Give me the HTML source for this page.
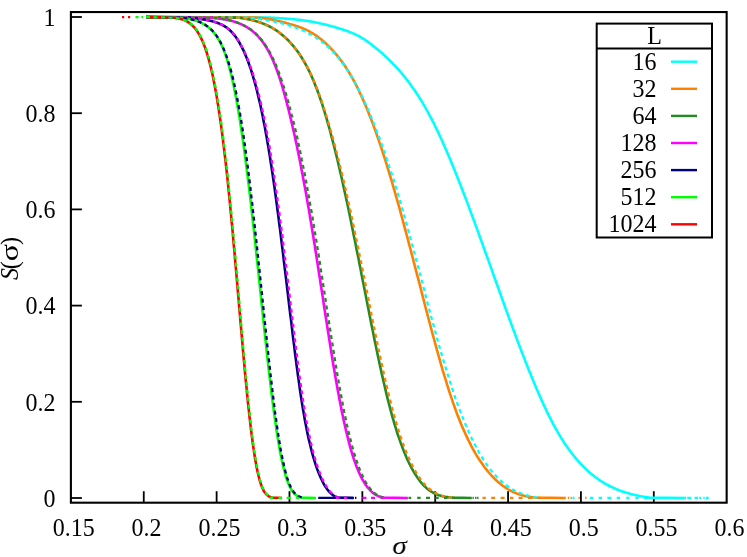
<!DOCTYPE html>
<html><head><meta charset="utf-8"><title>S(sigma)</title>
<style>
html,body{margin:0;padding:0;background:#fff;}
svg{display:block;will-change:transform;}
text{font-family:"Liberation Serif",serif;font-size:24px;fill:#000;}
</style></head><body>
<svg width="747" height="557" viewBox="0 0 747 557">
<rect x="0" y="0" width="747" height="557" fill="#fff"/>
<g id="axes" opacity="0.999">
<rect x="70.90" y="12.05" width="655.75" height="490.65" fill="none" stroke="#000" stroke-width="2.1"/>
<line x1="143.76" y1="502.70" x2="143.76" y2="491.20" stroke="#000" stroke-width="1.8"/>
<line x1="216.62" y1="502.70" x2="216.62" y2="491.20" stroke="#000" stroke-width="1.8"/>
<line x1="289.48" y1="502.70" x2="289.48" y2="491.20" stroke="#000" stroke-width="1.8"/>
<line x1="362.34" y1="502.70" x2="362.34" y2="491.20" stroke="#000" stroke-width="1.8"/>
<line x1="435.21" y1="502.70" x2="435.21" y2="491.20" stroke="#000" stroke-width="1.8"/>
<line x1="508.07" y1="502.70" x2="508.07" y2="491.20" stroke="#000" stroke-width="1.8"/>
<line x1="580.93" y1="502.70" x2="580.93" y2="491.20" stroke="#000" stroke-width="1.8"/>
<line x1="653.79" y1="502.70" x2="653.79" y2="491.20" stroke="#000" stroke-width="1.8"/>
<line x1="70.90" y1="498.00" x2="81.90" y2="498.00" stroke="#000" stroke-width="1.8"/>
<line x1="70.90" y1="401.80" x2="81.90" y2="401.80" stroke="#000" stroke-width="1.8"/>
<line x1="70.90" y1="305.60" x2="81.90" y2="305.60" stroke="#000" stroke-width="1.8"/>
<line x1="70.90" y1="209.40" x2="81.90" y2="209.40" stroke="#000" stroke-width="1.8"/>
<line x1="70.90" y1="113.20" x2="81.90" y2="113.20" stroke="#000" stroke-width="1.8"/>
<line x1="70.90" y1="17.00" x2="81.90" y2="17.00" stroke="#000" stroke-width="1.8"/>
<text transform="translate(73.70 535.60) scale(1.00 1.02)" text-anchor="middle">0.15</text>
<text transform="translate(146.56 535.60) scale(1.00 1.02)" text-anchor="middle">0.2</text>
<text transform="translate(219.42 535.60) scale(1.00 1.02)" text-anchor="middle">0.25</text>
<text transform="translate(292.28 535.60) scale(1.00 1.02)" text-anchor="middle">0.3</text>
<text transform="translate(365.14 535.60) scale(1.00 1.02)" text-anchor="middle">0.35</text>
<text transform="translate(438.01 535.60) scale(1.00 1.02)" text-anchor="middle">0.4</text>
<text transform="translate(510.87 535.60) scale(1.00 1.02)" text-anchor="middle">0.45</text>
<text transform="translate(583.73 535.60) scale(1.00 1.02)" text-anchor="middle">0.5</text>
<text transform="translate(656.59 535.60) scale(1.00 1.02)" text-anchor="middle">0.55</text>
<text transform="translate(729.45 535.60) scale(1.00 1.02)" text-anchor="middle">0.6</text>
<text transform="translate(55.50 506.70) scale(1.00 1.02)" text-anchor="end">0</text>
<text transform="translate(55.50 410.50) scale(1.00 1.02)" text-anchor="end">0.2</text>
<text transform="translate(55.50 314.30) scale(1.00 1.02)" text-anchor="end">0.4</text>
<text transform="translate(55.50 218.10) scale(1.00 1.02)" text-anchor="end">0.6</text>
<text transform="translate(55.50 121.90) scale(1.00 1.02)" text-anchor="end">0.8</text>
<text transform="translate(55.50 25.70) scale(1.00 1.02)" text-anchor="end">1</text>
<text transform="translate(399.60 554.20) scale(1.22 1.02)" text-anchor="middle" font-size="25.5" font-style="italic">σ</text>
<text transform="translate(17.50 280.00) rotate(-90) scale(1.00 1.02)" text-anchor="start" font-style="italic">S</text>
<text transform="translate(17.50 269.30) rotate(-90) scale(1.00 1.02)" text-anchor="start">(</text>
<text transform="translate(17.50 261.20) rotate(-90) scale(1.33 1.02)" text-anchor="start" font-size="26">σ</text>
<text transform="translate(17.50 245.00) rotate(-90) scale(1.00 1.02)" text-anchor="start">)</text>
</g>
<g id="curves">
<path d="M146.0 17.1 270.0 17.6 270.3 17.6 270.6 17.6 270.9 17.7 271.2 17.7 271.5 17.7 271.9 17.7 272.2 17.7 272.6 17.8 273.0 17.8 273.4 17.8 273.8 17.8 274.2 17.8 274.6 17.9 275.1 17.9 275.5 17.9 276.0 18.0 276.5 18.0 276.9 18.0 277.4 18.0 277.9 18.1 278.5 18.1 279.0 18.1 279.5 18.2 280.0 18.2 280.6 18.2 281.1 18.3 281.7 18.3 282.3 18.3 282.9 18.4 283.4 18.4 284.0 18.5 284.6 18.5 285.2 18.6 285.9 18.6 286.5 18.6 287.1 18.7 287.7 18.7 288.4 18.8 289.0 18.9 289.7 18.9 290.3 19.0 291.0 19.0 291.7 19.1 292.3 19.1 293.0 19.2 293.7 19.3 294.4 19.3 295.1 19.4 295.8 19.5 296.5 19.5 297.2 19.6 297.9 19.7 298.6 19.8 299.3 19.9 300.0 19.9 300.7 20.0 301.4 20.1 302.1 20.2 302.8 20.3 303.6 20.4 304.3 20.5 305.0 20.6 305.7 20.7 306.5 20.8 307.2 20.9 307.9 21.0 308.7 21.1 309.4 21.3 310.1 21.4 310.9 21.5 311.6 21.7 312.4 21.8 313.2 21.9 313.9 22.1 314.7 22.2 315.5 22.4 316.3 22.5 317.0 22.7 317.8 22.9 318.7 23.0 319.5 23.2 320.3 23.4 321.1 23.6 322.0 23.8 322.8 24.0 323.7 24.2 324.5 24.4 325.4 24.6 326.3 24.8 327.2 25.0 328.1 25.3 329.0 25.5 330.0 25.8 330.9 26.0 331.9 26.3 332.8 26.5 333.8 26.8 334.8 27.1 335.8 27.4 336.8 27.7 337.9 28.0 338.9 28.3 340.0 28.7 341.1 29.0 342.1 29.3 343.2 29.7 344.3 30.1 345.4 30.4 346.5 30.8 347.6 31.2 348.7 31.6 349.8 32.1 350.9 32.5 352.0 32.9 353.0 33.4 354.1 33.9 355.2 34.4 356.2 34.9 357.3 35.4 358.3 35.9 359.3 36.4 360.4 37.0 361.3 37.6 362.3 38.2 363.3 38.8 364.3 39.4 365.3 40.0 366.2 40.7 367.2 41.4 368.2 42.1 369.1 42.8 370.1 43.5 371.1 44.3 372.1 45.1 373.1 45.9 374.2 46.7 375.2 47.5 376.3 48.4 377.4 49.3 378.5 50.2 379.6 51.1 380.7 52.1 381.8 53.1 383.0 54.1 384.1 55.1 385.3 56.2 386.5 57.3 387.7 58.4 388.9 59.6 390.1 60.8 391.3 62.0 392.6 63.3 393.8 64.6 395.1 65.9 396.3 67.2 397.6 68.6 398.9 70.1 400.1 71.5 401.4 73.0 402.7 74.6 404.0 76.1 405.3 77.8 406.6 79.4 407.9 81.1 409.3 82.9 410.6 84.7 411.9 86.5 413.2 88.4 414.6 90.3 415.9 92.3 417.2 94.3 418.6 96.4 419.9 98.5 421.3 100.7 422.6 102.9 423.9 105.1 425.3 107.5 426.6 109.9 428.0 112.3 429.3 114.8 430.7 117.3 432.0 119.9 433.4 122.6 434.7 125.3 436.1 128.1 437.5 130.9 438.8 133.8 440.2 136.8 441.6 139.8 443.0 142.9 444.4 146.0 445.8 149.2 447.2 152.5 448.7 155.9 450.1 159.3 451.5 162.7 453.0 166.3 454.5 169.9 455.9 173.5 457.4 177.2 458.9 181.0 460.4 184.9 461.9 188.8 463.5 192.8 465.0 196.8 466.6 200.9 468.2 205.1 469.7 209.3 471.3 213.6 473.0 218.0 474.6 222.4 476.2 226.9 477.9 231.4 479.5 236.0 481.2 240.6 482.9 245.3 484.6 250.0 486.3 254.8 488.1 259.6 489.8 264.4 491.6 269.3 493.3 274.3 495.1 279.2 496.9 284.2 498.7 289.3 500.5 294.3 502.3 299.4 504.2 304.5 506.0 309.6 507.9 314.7 509.7 319.8 511.6 324.9 513.5 330.0 515.4 335.1 517.3 340.2 519.2 345.3 521.1 350.3 523.1 355.4 525.0 360.4 527.0 365.3 528.9 370.3 530.9 375.1 532.9 379.9 534.9 384.7 536.9 389.4 538.9 394.1 540.9 398.6 542.9 403.1 545.0 407.5 547.0 411.9 549.1 416.1 551.2 420.2 553.3 424.3 555.5 428.2 557.7 432.1 559.9 435.8 562.1 439.4 564.3 442.9 566.6 446.3 569.0 449.6 571.3 452.8 573.7 455.8 576.1 458.7 578.5 461.5 580.9 464.1 583.4 466.7 585.9 469.1 588.3 471.4 590.8 473.5 593.4 475.6 595.9 477.5 598.4 479.3 600.9 481.0 603.5 482.6 606.0 484.1 608.5 485.5 611.1 486.7 613.5 487.9 616.0 489.0 618.4 490.0 620.8 490.9 623.2 491.7 625.5 492.5 627.7 493.1 629.8 493.8 631.9 494.3 633.9 494.8 635.8 495.2 637.7 495.6 639.4 496.0 641.0 496.3 642.5 496.5 643.9 496.8 645.1 497.0 646.2 497.1 647.2 497.3 648.0 497.4 648.7 497.5 649.2 497.6 686.0 498.0" fill="none" stroke="#00ffff" stroke-width="2.6" stroke-linejoin="round"/>
<path d="M146.0 17.1 255.0 17.6 255.4 17.6 255.8 17.6 256.2 17.7 256.5 17.7 256.9 17.7 257.3 17.7 257.6 17.7 258.0 17.8 258.3 17.8 258.6 17.8 259.0 17.8 259.3 17.8 259.7 17.9 260.0 17.9 260.3 17.9 260.6 18.0 260.9 18.0 261.3 18.0 261.6 18.0 261.9 18.1 262.2 18.1 262.5 18.1 262.8 18.2 263.1 18.2 263.4 18.2 263.8 18.3 264.1 18.3 264.4 18.3 264.7 18.4 265.0 18.4 265.3 18.5 265.6 18.5 265.9 18.6 266.2 18.6 266.6 18.6 266.9 18.7 267.2 18.7 267.5 18.8 267.8 18.9 268.2 18.9 268.5 19.0 268.8 19.0 269.2 19.1 269.5 19.1 269.9 19.2 270.2 19.3 270.6 19.3 270.9 19.4 271.3 19.5 271.7 19.5 272.0 19.6 272.4 19.7 272.8 19.8 273.2 19.9 273.6 19.9 274.0 20.0 274.4 20.1 274.8 20.2 275.3 20.3 275.7 20.4 276.2 20.5 276.6 20.6 277.1 20.7 277.5 20.8 278.0 20.9 278.5 21.0 279.0 21.1 279.5 21.3 280.0 21.4 280.5 21.5 281.1 21.7 281.6 21.8 282.2 21.9 282.7 22.1 283.3 22.2 283.9 22.4 284.5 22.5 285.1 22.7 285.7 22.9 286.4 23.0 287.0 23.2 287.7 23.4 288.4 23.6 289.0 23.8 289.7 24.0 290.5 24.2 291.2 24.4 291.9 24.6 292.7 24.8 293.4 25.0 294.2 25.3 294.9 25.5 295.7 25.8 296.5 26.0 297.3 26.3 298.0 26.5 298.8 26.8 299.6 27.1 300.4 27.4 301.2 27.7 302.0 28.0 302.8 28.3 303.6 28.7 304.3 29.0 305.1 29.3 305.9 29.7 306.7 30.1 307.4 30.4 308.2 30.8 309.0 31.2 309.7 31.6 310.5 32.1 311.2 32.5 312.0 32.9 312.8 33.4 313.5 33.9 314.3 34.4 315.0 34.9 315.8 35.4 316.6 35.9 317.3 36.4 318.1 37.0 318.9 37.6 319.6 38.2 320.4 38.8 321.2 39.4 322.0 40.0 322.7 40.7 323.5 41.4 324.3 42.1 325.1 42.8 325.9 43.5 326.7 44.3 327.5 45.1 328.3 45.9 329.2 46.7 330.0 47.5 330.8 48.4 331.7 49.3 332.5 50.2 333.4 51.1 334.2 52.1 335.1 53.1 336.0 54.1 336.8 55.1 337.7 56.2 338.6 57.3 339.5 58.4 340.4 59.6 341.3 60.8 342.2 62.0 343.1 63.3 344.0 64.6 344.9 65.9 345.8 67.2 346.7 68.6 347.6 70.1 348.5 71.5 349.4 73.0 350.3 74.6 351.3 76.1 352.2 77.8 353.1 79.4 354.0 81.1 355.0 82.9 355.9 84.7 356.8 86.5 357.8 88.4 358.7 90.3 359.6 92.3 360.6 94.3 361.5 96.4 362.5 98.5 363.5 100.7 364.4 102.9 365.4 105.1 366.4 107.5 367.4 109.9 368.4 112.3 369.3 114.8 370.3 117.3 371.4 119.9 372.4 122.6 373.4 125.3 374.4 128.1 375.4 130.9 376.5 133.8 377.5 136.8 378.6 139.8 379.6 142.9 380.7 146.0 381.8 149.2 382.8 152.5 383.9 155.9 385.0 159.3 386.1 162.7 387.2 166.3 388.3 169.9 389.4 173.5 390.5 177.2 391.7 181.0 392.8 184.9 393.9 188.8 395.1 192.8 396.2 196.8 397.4 200.9 398.6 205.1 399.8 209.3 400.9 213.6 402.1 218.0 403.3 222.4 404.5 226.9 405.7 231.4 407.0 236.0 408.2 240.6 409.4 245.3 410.7 250.0 411.9 254.8 413.2 259.6 414.4 264.4 415.7 269.3 417.0 274.3 418.3 279.2 419.6 284.2 420.9 289.3 422.2 294.3 423.5 299.4 424.8 304.5 426.1 309.6 427.5 314.7 428.8 319.8 430.2 324.9 431.5 330.0 432.9 335.1 434.3 340.2 435.7 345.3 437.1 350.3 438.5 355.4 439.9 360.4 441.3 365.3 442.7 370.3 444.2 375.1 445.7 379.9 447.1 384.7 448.6 389.4 450.1 394.1 451.7 398.6 453.2 403.1 454.8 407.5 456.3 411.9 457.9 416.1 459.6 420.2 461.2 424.3 462.9 428.2 464.6 432.1 466.3 435.8 468.0 439.4 469.8 442.9 471.5 446.3 473.3 449.6 475.1 452.8 476.9 455.8 478.7 458.7 480.6 461.5 482.4 464.1 484.2 466.7 486.1 469.1 487.9 471.4 489.7 473.5 491.6 475.6 493.4 477.5 495.2 479.3 497.0 481.0 498.8 482.6 500.6 484.1 502.4 485.5 504.2 486.7 505.9 487.9 507.6 489.0 509.3 490.0 511.0 490.9 512.7 491.7 514.3 492.5 515.9 493.1 517.5 493.8 519.0 494.3 520.5 494.8 522.0 495.2 523.4 495.6 524.8 496.0 526.1 496.3 527.4 496.5 528.7 496.8 529.9 497.0 531.0 497.1 532.1 497.3 533.2 497.4 534.2 497.5 535.1 497.6 565.8 498.0" fill="none" stroke="#ff8000" stroke-width="2.6" stroke-linejoin="round"/>
<path d="M146.0 17.1 238.0 17.6 238.1 17.6 238.2 17.6 238.4 17.7 238.5 17.7 238.6 17.7 238.8 17.7 238.9 17.7 239.0 17.8 239.2 17.8 239.4 17.8 239.5 17.8 239.7 17.8 239.9 17.9 240.0 17.9 240.2 17.9 240.4 18.0 240.6 18.0 240.8 18.0 241.0 18.0 241.2 18.1 241.4 18.1 241.6 18.1 241.9 18.2 242.1 18.2 242.3 18.2 242.5 18.3 242.8 18.3 243.0 18.3 243.3 18.4 243.5 18.4 243.8 18.5 244.0 18.5 244.3 18.6 244.6 18.6 244.8 18.6 245.1 18.7 245.4 18.7 245.7 18.8 246.0 18.9 246.3 18.9 246.6 19.0 246.9 19.0 247.2 19.1 247.5 19.1 247.8 19.2 248.2 19.3 248.5 19.3 248.8 19.4 249.2 19.5 249.5 19.5 249.8 19.6 250.2 19.7 250.5 19.8 250.9 19.9 251.3 19.9 251.6 20.0 252.0 20.1 252.4 20.2 252.8 20.3 253.1 20.4 253.5 20.5 253.9 20.6 254.3 20.7 254.7 20.8 255.1 20.9 255.5 21.0 255.9 21.1 256.4 21.3 256.8 21.4 257.2 21.5 257.6 21.7 258.1 21.8 258.5 21.9 258.9 22.1 259.4 22.2 259.8 22.4 260.3 22.5 260.7 22.7 261.2 22.9 261.7 23.0 262.1 23.2 262.6 23.4 263.1 23.6 263.6 23.8 264.1 24.0 264.6 24.2 265.0 24.4 265.5 24.6 266.0 24.8 266.5 25.0 267.1 25.3 267.6 25.5 268.1 25.8 268.6 26.0 269.1 26.3 269.7 26.5 270.2 26.8 270.7 27.1 271.3 27.4 271.8 27.7 272.4 28.0 272.9 28.3 273.5 28.7 274.0 29.0 274.6 29.3 275.2 29.7 275.7 30.1 276.3 30.4 276.9 30.8 277.5 31.2 278.1 31.6 278.6 32.1 279.2 32.5 279.8 32.9 280.4 33.4 281.0 33.9 281.6 34.4 282.2 34.9 282.9 35.4 283.5 35.9 284.1 36.4 284.7 37.0 285.4 37.6 286.0 38.2 286.6 38.8 287.3 39.4 287.9 40.0 288.6 40.7 289.2 41.4 289.9 42.1 290.5 42.8 291.2 43.5 291.8 44.3 292.5 45.1 293.2 45.9 293.9 46.7 294.5 47.5 295.2 48.4 295.9 49.3 296.6 50.2 297.3 51.1 298.0 52.1 298.7 53.1 299.4 54.1 300.1 55.1 300.8 56.2 301.5 57.3 302.2 58.4 302.9 59.6 303.6 60.8 304.3 62.0 305.0 63.3 305.8 64.6 306.5 65.9 307.2 67.2 307.9 68.6 308.6 70.1 309.4 71.5 310.1 73.0 310.8 74.6 311.5 76.1 312.2 77.8 312.9 79.4 313.7 81.1 314.4 82.9 315.1 84.7 315.8 86.5 316.6 88.4 317.3 90.3 318.0 92.3 318.8 94.3 319.5 96.4 320.2 98.5 321.0 100.7 321.7 102.9 322.5 105.1 323.2 107.5 323.9 109.9 324.7 112.3 325.5 114.8 326.2 117.3 327.0 119.9 327.7 122.6 328.5 125.3 329.3 128.1 330.1 130.9 330.8 133.8 331.6 136.8 332.4 139.8 333.2 142.9 334.0 146.0 334.8 149.2 335.6 152.5 336.5 155.9 337.3 159.3 338.1 162.7 338.9 166.3 339.8 169.9 340.6 173.5 341.5 177.2 342.3 181.0 343.2 184.9 344.0 188.8 344.9 192.8 345.8 196.8 346.7 200.9 347.6 205.1 348.5 209.3 349.4 213.6 350.3 218.0 351.2 222.4 352.1 226.9 353.0 231.4 353.9 236.0 354.9 240.6 355.8 245.3 356.7 250.0 357.7 254.8 358.7 259.6 359.6 264.4 360.6 269.3 361.5 274.3 362.5 279.2 363.5 284.2 364.5 289.3 365.5 294.3 366.5 299.4 367.5 304.5 368.5 309.6 369.5 314.7 370.5 319.8 371.5 324.9 372.6 330.0 373.6 335.1 374.6 340.2 375.7 345.3 376.7 350.3 377.8 355.4 378.9 360.4 379.9 365.3 381.0 370.3 382.1 375.1 383.2 379.9 384.3 384.7 385.4 389.4 386.5 394.1 387.6 398.6 388.8 403.1 389.9 407.5 391.1 411.9 392.2 416.1 393.4 420.2 394.6 424.3 395.8 428.2 397.0 432.1 398.2 435.8 399.5 439.4 400.7 442.9 402.0 446.3 403.2 449.6 404.5 452.8 405.8 455.8 407.0 458.7 408.3 461.5 409.6 464.1 410.9 466.7 412.2 469.1 413.5 471.4 414.8 473.5 416.1 475.6 417.4 477.5 418.7 479.3 419.9 481.0 421.2 482.6 422.5 484.1 423.8 485.5 425.1 486.7 426.3 487.9 427.6 489.0 428.9 490.0 430.1 490.9 431.4 491.7 432.7 492.5 433.9 493.1 435.2 493.8 436.4 494.3 437.7 494.8 438.9 495.2 440.2 495.6 441.4 496.0 442.6 496.3 443.9 496.5 445.1 496.8 446.4 497.0 447.6 497.1 448.8 497.3 450.0 497.4 451.2 497.5 452.5 497.6 471.8 498.0" fill="none" stroke="#228b22" stroke-width="2.6" stroke-linejoin="round"/>
<path d="M146.0 17.1 210.0 17.6 210.2 17.6 210.5 17.6 210.7 17.7 210.9 17.7 211.2 17.7 211.4 17.7 211.7 17.7 211.9 17.8 212.2 17.8 212.5 17.8 212.7 17.8 213.0 17.8 213.3 17.9 213.6 17.9 213.8 17.9 214.1 18.0 214.4 18.0 214.7 18.0 215.0 18.0 215.3 18.1 215.6 18.1 215.9 18.1 216.2 18.2 216.5 18.2 216.8 18.2 217.2 18.3 217.5 18.3 217.8 18.3 218.1 18.4 218.5 18.4 218.8 18.5 219.1 18.5 219.5 18.6 219.8 18.6 220.1 18.6 220.5 18.7 220.8 18.7 221.2 18.8 221.6 18.9 221.9 18.9 222.3 19.0 222.6 19.0 223.0 19.1 223.4 19.1 223.8 19.2 224.1 19.3 224.5 19.3 224.9 19.4 225.3 19.5 225.7 19.5 226.0 19.6 226.4 19.7 226.8 19.8 227.2 19.9 227.6 19.9 228.0 20.0 228.4 20.1 228.8 20.2 229.2 20.3 229.7 20.4 230.1 20.5 230.5 20.6 230.9 20.7 231.3 20.8 231.7 20.9 232.2 21.0 232.6 21.1 233.0 21.3 233.5 21.4 233.9 21.5 234.3 21.7 234.8 21.8 235.2 21.9 235.6 22.1 236.1 22.2 236.5 22.4 237.0 22.5 237.4 22.7 237.9 22.9 238.3 23.0 238.8 23.2 239.2 23.4 239.7 23.6 240.1 23.8 240.6 24.0 241.1 24.2 241.5 24.4 242.0 24.6 242.5 24.8 242.9 25.0 243.4 25.3 243.9 25.5 244.4 25.8 244.8 26.0 245.3 26.3 245.8 26.5 246.3 26.8 246.8 27.1 247.2 27.4 247.7 27.7 248.2 28.0 248.7 28.3 249.2 28.7 249.7 29.0 250.2 29.3 250.7 29.7 251.2 30.1 251.6 30.4 252.1 30.8 252.6 31.2 253.1 31.6 253.6 32.1 254.1 32.5 254.6 32.9 255.1 33.4 255.6 33.9 256.1 34.4 256.7 34.9 257.2 35.4 257.7 35.9 258.2 36.4 258.7 37.0 259.2 37.6 259.7 38.2 260.2 38.8 260.7 39.4 261.2 40.0 261.7 40.7 262.3 41.4 262.8 42.1 263.3 42.8 263.8 43.5 264.3 44.3 264.8 45.1 265.4 45.9 265.9 46.7 266.4 47.5 266.9 48.4 267.4 49.3 268.0 50.2 268.5 51.1 269.0 52.1 269.5 53.1 270.0 54.1 270.6 55.1 271.1 56.2 271.6 57.3 272.1 58.4 272.6 59.6 273.2 60.8 273.7 62.0 274.2 63.3 274.7 64.6 275.3 65.9 275.8 67.2 276.3 68.6 276.8 70.1 277.4 71.5 277.9 73.0 278.4 74.6 279.0 76.1 279.5 77.8 280.1 79.4 280.6 81.1 281.2 82.9 281.7 84.7 282.3 86.5 282.8 88.4 283.4 90.3 283.9 92.3 284.5 94.3 285.1 96.4 285.7 98.5 286.2 100.7 286.8 102.9 287.4 105.1 288.0 107.5 288.6 109.9 289.2 112.3 289.8 114.8 290.4 117.3 291.1 119.9 291.7 122.6 292.3 125.3 292.9 128.1 293.6 130.9 294.2 133.8 294.9 136.8 295.5 139.8 296.2 142.9 296.9 146.0 297.5 149.2 298.2 152.5 298.9 155.9 299.6 159.3 300.3 162.7 300.9 166.3 301.6 169.9 302.3 173.5 303.0 177.2 303.7 181.0 304.4 184.9 305.2 188.8 305.9 192.8 306.6 196.8 307.3 200.9 308.0 205.1 308.8 209.3 309.5 213.6 310.2 218.0 311.0 222.4 311.7 226.9 312.4 231.4 313.2 236.0 313.9 240.6 314.7 245.3 315.4 250.0 316.2 254.8 316.9 259.6 317.7 264.4 318.4 269.3 319.2 274.3 320.0 279.2 320.7 284.2 321.5 289.3 322.3 294.3 323.1 299.4 323.8 304.5 324.6 309.6 325.4 314.7 326.2 319.8 327.0 324.9 327.8 330.0 328.6 335.1 329.4 340.2 330.2 345.3 331.0 350.3 331.8 355.4 332.6 360.4 333.4 365.3 334.3 370.3 335.1 375.1 335.9 379.9 336.8 384.7 337.6 389.4 338.5 394.1 339.3 398.6 340.2 403.1 341.1 407.5 341.9 411.9 342.8 416.1 343.7 420.2 344.6 424.3 345.5 428.2 346.4 432.1 347.3 435.8 348.2 439.4 349.1 442.9 350.0 446.3 350.9 449.6 351.9 452.8 352.8 455.8 353.7 458.7 354.7 461.5 355.7 464.1 356.6 466.7 357.6 469.1 358.5 471.4 359.5 473.5 360.5 475.6 361.4 477.5 362.4 479.3 363.3 481.0 364.3 482.6 365.2 484.1 366.2 485.5 367.1 486.7 368.0 487.9 369.0 489.0 369.9 490.0 370.8 490.9 371.6 491.7 372.5 492.5 373.3 493.1 374.2 493.8 375.0 494.3 375.8 494.8 376.6 495.2 377.3 495.6 378.1 496.0 378.8 496.3 379.5 496.5 380.1 496.8 380.8 497.0 381.4 497.1 382.0 497.3 382.5 497.4 383.0 497.5 383.5 497.6 407.9 498.0" fill="none" stroke="#ff00ff" stroke-width="2.6" stroke-linejoin="round"/>
<path d="M146.0 17.1 190.0 17.6 190.1 17.6 190.1 17.6 190.2 17.7 190.3 17.7 190.4 17.7 190.5 17.7 190.7 17.7 190.8 17.8 190.9 17.8 191.1 17.8 191.3 17.8 191.5 17.8 191.6 17.9 191.8 17.9 192.1 17.9 192.3 18.0 192.5 18.0 192.7 18.0 193.0 18.0 193.2 18.1 193.5 18.1 193.8 18.1 194.0 18.2 194.3 18.2 194.6 18.2 194.9 18.3 195.2 18.3 195.5 18.3 195.9 18.4 196.2 18.4 196.5 18.5 196.9 18.5 197.2 18.6 197.6 18.6 198.0 18.6 198.3 18.7 198.7 18.7 199.1 18.8 199.5 18.9 199.9 18.9 200.2 19.0 200.6 19.0 201.1 19.1 201.5 19.1 201.9 19.2 202.3 19.3 202.7 19.3 203.1 19.4 203.6 19.5 204.0 19.5 204.5 19.6 204.9 19.7 205.3 19.8 205.8 19.9 206.2 19.9 206.7 20.0 207.1 20.1 207.6 20.2 208.1 20.3 208.5 20.4 209.0 20.5 209.5 20.6 209.9 20.7 210.4 20.8 210.9 20.9 211.3 21.0 211.8 21.1 212.3 21.3 212.8 21.4 213.2 21.5 213.7 21.7 214.2 21.8 214.6 21.9 215.1 22.1 215.6 22.2 216.1 22.4 216.5 22.5 217.0 22.7 217.5 22.9 217.9 23.0 218.4 23.2 218.9 23.4 219.3 23.6 219.8 23.8 220.2 24.0 220.7 24.2 221.2 24.4 221.6 24.6 222.1 24.8 222.5 25.0 222.9 25.3 223.4 25.5 223.8 25.8 224.2 26.0 224.7 26.3 225.1 26.5 225.5 26.8 226.0 27.1 226.4 27.4 226.8 27.7 227.2 28.0 227.6 28.3 228.0 28.7 228.5 29.0 228.9 29.3 229.3 29.7 229.7 30.1 230.1 30.4 230.5 30.8 230.9 31.2 231.3 31.6 231.7 32.1 232.1 32.5 232.5 32.9 232.9 33.4 233.3 33.9 233.7 34.4 234.1 34.9 234.5 35.4 234.9 35.9 235.4 36.4 235.8 37.0 236.2 37.6 236.6 38.2 237.0 38.8 237.4 39.4 237.8 40.0 238.2 40.7 238.6 41.4 239.0 42.1 239.5 42.8 239.9 43.5 240.3 44.3 240.7 45.1 241.2 45.9 241.6 46.7 242.0 47.5 242.4 48.4 242.9 49.3 243.3 50.2 243.8 51.1 244.2 52.1 244.6 53.1 245.1 54.1 245.5 55.1 246.0 56.2 246.4 57.3 246.9 58.4 247.3 59.6 247.8 60.8 248.3 62.0 248.7 63.3 249.2 64.6 249.6 65.9 250.1 67.2 250.6 68.6 251.1 70.1 251.5 71.5 252.0 73.0 252.5 74.6 253.0 76.1 253.4 77.8 253.9 79.4 254.4 81.1 254.9 82.9 255.4 84.7 255.9 86.5 256.4 88.4 256.9 90.3 257.3 92.3 257.8 94.3 258.3 96.4 258.8 98.5 259.3 100.7 259.9 102.9 260.4 105.1 260.9 107.5 261.4 109.9 261.9 112.3 262.4 114.8 262.9 117.3 263.4 119.9 263.9 122.6 264.5 125.3 265.0 128.1 265.5 130.9 266.0 133.8 266.6 136.8 267.1 139.8 267.6 142.9 268.2 146.0 268.7 149.2 269.2 152.5 269.8 155.9 270.3 159.3 270.8 162.7 271.4 166.3 271.9 169.9 272.5 173.5 273.0 177.2 273.6 181.0 274.1 184.9 274.7 188.8 275.2 192.8 275.8 196.8 276.3 200.9 276.9 205.1 277.4 209.3 278.0 213.6 278.6 218.0 279.1 222.4 279.7 226.9 280.3 231.4 280.9 236.0 281.4 240.6 282.0 245.3 282.6 250.0 283.2 254.8 283.7 259.6 284.3 264.4 284.9 269.3 285.5 274.3 286.1 279.2 286.7 284.2 287.3 289.3 287.9 294.3 288.5 299.4 289.1 304.5 289.7 309.6 290.3 314.7 291.0 319.8 291.6 324.9 292.2 330.0 292.8 335.1 293.4 340.2 294.1 345.3 294.7 350.3 295.3 355.4 296.0 360.4 296.6 365.3 297.3 370.3 297.9 375.1 298.6 379.9 299.3 384.7 299.9 389.4 300.6 394.1 301.3 398.6 302.0 403.1 302.7 407.5 303.5 411.9 304.2 416.1 304.9 420.2 305.7 424.3 306.5 428.2 307.2 432.1 308.0 435.8 308.8 439.4 309.7 442.9 310.5 446.3 311.3 449.6 312.1 452.8 313.0 455.8 313.8 458.7 314.7 461.5 315.5 464.1 316.4 466.7 317.2 469.1 318.1 471.4 318.9 473.5 319.8 475.6 320.6 477.5 321.5 479.3 322.3 481.0 323.1 482.6 323.9 484.1 324.7 485.5 325.5 486.7 326.3 487.9 327.0 489.0 327.8 490.0 328.5 490.9 329.2 491.7 329.9 492.5 330.6 493.1 331.3 493.8 331.9 494.3 332.5 494.8 333.1 495.2 333.6 495.6 334.2 496.0 334.7 496.3 335.1 496.5 335.6 496.8 336.0 497.0 336.4 497.1 336.7 497.3 337.0 497.4 337.3 497.5 337.6 497.6 353.7 498.0" fill="none" stroke="#000080" stroke-width="2.6" stroke-linejoin="round"/>
<path d="M146.0 17.1 180.0 17.6 180.1 17.6 180.3 17.6 180.4 17.7 180.6 17.7 180.8 17.7 180.9 17.7 181.1 17.7 181.3 17.8 181.5 17.8 181.7 17.8 181.9 17.8 182.1 17.8 182.3 17.9 182.5 17.9 182.7 17.9 182.9 18.0 183.1 18.0 183.3 18.0 183.5 18.0 183.8 18.1 184.0 18.1 184.2 18.1 184.5 18.2 184.7 18.2 184.9 18.2 185.2 18.3 185.4 18.3 185.7 18.3 185.9 18.4 186.2 18.4 186.4 18.5 186.7 18.5 186.9 18.6 187.2 18.6 187.5 18.6 187.7 18.7 188.0 18.7 188.3 18.8 188.6 18.9 188.8 18.9 189.1 19.0 189.4 19.0 189.7 19.1 190.0 19.1 190.3 19.2 190.6 19.3 190.9 19.3 191.2 19.4 191.5 19.5 191.8 19.5 192.1 19.6 192.4 19.7 192.7 19.8 193.0 19.9 193.3 19.9 193.6 20.0 193.9 20.1 194.2 20.2 194.6 20.3 194.9 20.4 195.2 20.5 195.5 20.6 195.9 20.7 196.2 20.8 196.5 20.9 196.9 21.0 197.2 21.1 197.5 21.3 197.9 21.4 198.2 21.5 198.5 21.7 198.9 21.8 199.2 21.9 199.6 22.1 199.9 22.2 200.3 22.4 200.6 22.5 201.0 22.7 201.3 22.9 201.7 23.0 202.0 23.2 202.4 23.4 202.7 23.6 203.1 23.8 203.4 24.0 203.8 24.2 204.2 24.4 204.5 24.6 204.9 24.8 205.3 25.0 205.6 25.3 206.0 25.5 206.3 25.8 206.7 26.0 207.1 26.3 207.4 26.5 207.8 26.8 208.2 27.1 208.5 27.4 208.9 27.7 209.3 28.0 209.7 28.3 210.0 28.7 210.4 29.0 210.8 29.3 211.1 29.7 211.5 30.1 211.9 30.4 212.3 30.8 212.6 31.2 213.0 31.6 213.4 32.1 213.7 32.5 214.1 32.9 214.5 33.4 214.9 33.9 215.2 34.4 215.6 34.9 216.0 35.4 216.4 35.9 216.7 36.4 217.1 37.0 217.5 37.6 217.8 38.2 218.2 38.8 218.6 39.4 219.0 40.0 219.3 40.7 219.7 41.4 220.1 42.1 220.4 42.8 220.8 43.5 221.2 44.3 221.5 45.1 221.9 45.9 222.3 46.7 222.7 47.5 223.0 48.4 223.4 49.3 223.8 50.2 224.1 51.1 224.5 52.1 224.9 53.1 225.2 54.1 225.6 55.1 226.0 56.2 226.3 57.3 226.7 58.4 227.1 59.6 227.4 60.8 227.8 62.0 228.2 63.3 228.6 64.6 228.9 65.9 229.3 67.2 229.7 68.6 230.0 70.1 230.4 71.5 230.8 73.0 231.2 74.6 231.6 76.1 231.9 77.8 232.3 79.4 232.7 81.1 233.1 82.9 233.5 84.7 233.9 86.5 234.2 88.4 234.6 90.3 235.0 92.3 235.4 94.3 235.8 96.4 236.2 98.5 236.6 100.7 237.0 102.9 237.4 105.1 237.8 107.5 238.2 109.9 238.6 112.3 239.0 114.8 239.5 117.3 239.9 119.9 240.3 122.6 240.7 125.3 241.1 128.1 241.5 130.9 242.0 133.8 242.4 136.8 242.8 139.8 243.3 142.9 243.7 146.0 244.1 149.2 244.6 152.5 245.0 155.9 245.5 159.3 245.9 162.7 246.4 166.3 246.8 169.9 247.3 173.5 247.8 177.2 248.2 181.0 248.7 184.9 249.2 188.8 249.6 192.8 250.1 196.8 250.6 200.9 251.1 205.1 251.5 209.3 252.0 213.6 252.5 218.0 253.0 222.4 253.5 226.9 254.0 231.4 254.5 236.0 255.0 240.6 255.5 245.3 256.0 250.0 256.5 254.8 257.0 259.6 257.5 264.4 258.1 269.3 258.6 274.3 259.1 279.2 259.6 284.2 260.2 289.3 260.7 294.3 261.2 299.4 261.7 304.5 262.3 309.6 262.8 314.7 263.3 319.8 263.9 324.9 264.4 330.0 265.0 335.1 265.5 340.2 266.1 345.3 266.6 350.3 267.2 355.4 267.7 360.4 268.3 365.3 268.8 370.3 269.4 375.1 270.0 379.9 270.5 384.7 271.1 389.4 271.6 394.1 272.2 398.6 272.8 403.1 273.4 407.5 273.9 411.9 274.5 416.1 275.1 420.2 275.7 424.3 276.2 428.2 276.8 432.1 277.4 435.8 278.0 439.4 278.6 442.9 279.2 446.3 279.7 449.6 280.3 452.8 280.9 455.8 281.5 458.7 282.1 461.5 282.7 464.1 283.3 466.7 283.9 469.1 284.5 471.4 285.1 473.5 285.6 475.6 286.2 477.5 286.8 479.3 287.4 481.0 288.0 482.6 288.6 484.1 289.2 485.5 289.8 486.7 290.4 487.9 291.0 489.0 291.5 490.0 292.1 490.9 292.7 491.7 293.3 492.5 293.9 493.1 294.5 493.8 295.1 494.3 295.6 494.8 296.2 495.2 296.8 495.6 297.4 496.0 297.9 496.3 298.5 496.5 299.1 496.8 299.6 497.0 300.2 497.1 300.8 497.3 301.3 497.4 301.9 497.5 302.4 497.6 315.9 498.0" fill="none" stroke="#00ff00" stroke-width="2.6" stroke-linejoin="round"/>
<path d="M146.0 17.1 172.0 17.6 172.2 17.6 172.4 17.6 172.7 17.7 172.9 17.7 173.1 17.7 173.3 17.7 173.5 17.7 173.7 17.8 173.9 17.8 174.1 17.8 174.3 17.8 174.6 17.8 174.8 17.9 175.0 17.9 175.2 17.9 175.4 18.0 175.6 18.0 175.8 18.0 176.0 18.0 176.2 18.1 176.4 18.1 176.7 18.1 176.9 18.2 177.1 18.2 177.3 18.2 177.5 18.3 177.7 18.3 177.9 18.3 178.1 18.4 178.3 18.4 178.6 18.5 178.8 18.5 179.0 18.6 179.2 18.6 179.4 18.6 179.6 18.7 179.8 18.7 180.0 18.8 180.3 18.9 180.5 18.9 180.7 19.0 180.9 19.0 181.1 19.1 181.3 19.1 181.6 19.2 181.8 19.3 182.0 19.3 182.2 19.4 182.4 19.5 182.6 19.5 182.9 19.6 183.1 19.7 183.3 19.8 183.5 19.9 183.7 19.9 184.0 20.0 184.2 20.1 184.4 20.2 184.6 20.3 184.9 20.4 185.1 20.5 185.3 20.6 185.5 20.7 185.8 20.8 186.0 20.9 186.2 21.0 186.4 21.1 186.7 21.3 186.9 21.4 187.1 21.5 187.4 21.7 187.6 21.8 187.8 21.9 188.1 22.1 188.3 22.2 188.5 22.4 188.8 22.5 189.0 22.7 189.2 22.9 189.5 23.0 189.7 23.2 190.0 23.4 190.2 23.6 190.4 23.8 190.7 24.0 190.9 24.2 191.2 24.4 191.4 24.6 191.7 24.8 191.9 25.0 192.2 25.3 192.4 25.5 192.7 25.8 192.9 26.0 193.2 26.3 193.4 26.5 193.7 26.8 194.0 27.1 194.2 27.4 194.5 27.7 194.7 28.0 195.0 28.3 195.3 28.7 195.5 29.0 195.8 29.3 196.1 29.7 196.3 30.1 196.6 30.4 196.9 30.8 197.1 31.2 197.4 31.6 197.7 32.1 198.0 32.5 198.2 32.9 198.5 33.4 198.8 33.9 199.1 34.4 199.4 34.9 199.6 35.4 199.9 35.9 200.2 36.4 200.5 37.0 200.8 37.6 201.1 38.2 201.4 38.8 201.7 39.4 202.0 40.0 202.3 40.7 202.6 41.4 202.9 42.1 203.2 42.8 203.5 43.5 203.8 44.3 204.1 45.1 204.4 45.9 204.7 46.7 205.0 47.5 205.3 48.4 205.6 49.3 205.9 50.2 206.2 51.1 206.5 52.1 206.9 53.1 207.2 54.1 207.5 55.1 207.8 56.2 208.1 57.3 208.5 58.4 208.8 59.6 209.1 60.8 209.4 62.0 209.8 63.3 210.1 64.6 210.4 65.9 210.8 67.2 211.1 68.6 211.4 70.1 211.8 71.5 212.1 73.0 212.5 74.6 212.8 76.1 213.1 77.8 213.5 79.4 213.8 81.1 214.2 82.9 214.5 84.7 214.9 86.5 215.2 88.4 215.6 90.3 215.9 92.3 216.3 94.3 216.7 96.4 217.0 98.5 217.4 100.7 217.7 102.9 218.1 105.1 218.5 107.5 218.8 109.9 219.2 112.3 219.6 114.8 219.9 117.3 220.3 119.9 220.7 122.6 221.1 125.3 221.4 128.1 221.8 130.9 222.2 133.8 222.6 136.8 223.0 139.8 223.3 142.9 223.7 146.0 224.1 149.2 224.5 152.5 224.9 155.9 225.3 159.3 225.7 162.7 226.1 166.3 226.5 169.9 226.9 173.5 227.3 177.2 227.7 181.0 228.1 184.9 228.5 188.8 228.9 192.8 229.3 196.8 229.7 200.9 230.1 205.1 230.5 209.3 230.9 213.6 231.3 218.0 231.7 222.4 232.2 226.9 232.6 231.4 233.0 236.0 233.4 240.6 233.8 245.3 234.3 250.0 234.7 254.8 235.1 259.6 235.5 264.4 236.0 269.3 236.4 274.3 236.8 279.2 237.3 284.2 237.7 289.3 238.1 294.3 238.6 299.4 239.0 304.5 239.4 309.6 239.9 314.7 240.3 319.8 240.8 324.9 241.2 330.0 241.7 335.1 242.1 340.2 242.6 345.3 243.0 350.3 243.5 355.4 243.9 360.4 244.4 365.3 244.8 370.3 245.3 375.1 245.7 379.9 246.2 384.7 246.7 389.4 247.1 394.1 247.6 398.6 248.0 403.1 248.5 407.5 249.0 411.9 249.4 416.1 249.9 420.2 250.4 424.3 250.8 428.2 251.3 432.1 251.8 435.8 252.3 439.4 252.7 442.9 253.2 446.3 253.7 449.6 254.2 452.8 254.6 455.8 255.1 458.7 255.6 461.5 256.1 464.1 256.5 466.7 257.0 469.1 257.5 471.4 258.0 473.5 258.5 475.6 259.0 477.5 259.4 479.3 259.9 481.0 260.4 482.6 260.9 484.1 261.4 485.5 261.9 486.7 262.4 487.9 262.9 489.0 263.3 490.0 263.8 490.9 264.3 491.7 264.8 492.5 265.3 493.1 265.8 493.8 266.3 494.3 266.8 494.8 267.3 495.2 267.8 495.6 268.3 496.0 268.8 496.3 269.2 496.5 269.7 496.8 270.2 497.0 270.7 497.1 271.2 497.3 271.7 497.4 272.2 497.5 272.7 497.6 282.1 498.0" fill="none" stroke="#ff0000" stroke-width="2.6" stroke-linejoin="round"/>
<path d="M146.0 17.1 250.0 17.6 250.0 17.6 250.0 17.6 250.1 17.7 250.1 17.7 250.2 17.7 250.2 17.7 250.3 17.7 250.4 17.8 250.5 17.8 250.6 17.8 250.7 17.8 250.8 17.8 251.0 17.9 251.1 17.9 251.3 17.9 251.5 18.0 251.6 18.0 251.8 18.0 252.0 18.0 252.2 18.1 252.5 18.1 252.7 18.1 252.9 18.2 253.2 18.2 253.4 18.2 253.7 18.3 254.0 18.3 254.3 18.3 254.6 18.4 254.9 18.4 255.2 18.5 255.5 18.5 255.9 18.6 256.2 18.6 256.6 18.6 256.9 18.7 257.3 18.7 257.7 18.8 258.1 18.9 258.5 18.9 258.9 19.0 259.3 19.0 259.7 19.1 260.1 19.1 260.6 19.2 261.0 19.3 261.5 19.3 262.0 19.4 262.4 19.5 262.9 19.5 263.4 19.6 263.9 19.7 264.4 19.8 264.9 19.9 265.4 19.9 265.9 20.0 266.5 20.1 267.0 20.2 267.6 20.3 268.1 20.4 268.7 20.5 269.3 20.6 269.8 20.7 270.4 20.8 271.0 20.9 271.6 21.0 272.2 21.1 272.8 21.3 273.4 21.4 274.0 21.5 274.7 21.7 275.3 21.8 276.0 21.9 276.6 22.1 277.3 22.2 277.9 22.4 278.6 22.5 279.3 22.7 280.0 22.9 280.7 23.0 281.4 23.2 282.1 23.4 282.8 23.6 283.5 23.8 284.2 24.0 285.0 24.2 285.7 24.4 286.5 24.6 287.2 24.8 288.0 25.0 288.8 25.3 289.6 25.5 290.4 25.8 291.2 26.0 292.0 26.3 292.8 26.5 293.6 26.8 294.4 27.1 295.2 27.4 296.0 27.7 296.9 28.0 297.7 28.3 298.6 28.7 299.4 29.0 300.2 29.3 301.1 29.7 302.0 30.1 302.8 30.4 303.7 30.8 304.5 31.2 305.4 31.6 306.3 32.1 307.1 32.5 308.0 32.9 308.9 33.4 309.8 33.9 310.7 34.4 311.5 34.9 312.4 35.4 313.3 35.9 314.2 36.4 315.1 37.0 316.0 37.6 316.9 38.2 317.8 38.8 318.7 39.4 319.6 40.0 320.5 40.7 321.4 41.4 322.3 42.1 323.2 42.8 324.1 43.5 325.0 44.3 325.9 45.1 326.8 45.9 327.7 46.7 328.7 47.5 329.6 48.4 330.5 49.3 331.4 50.2 332.4 51.1 333.3 52.1 334.2 53.1 335.1 54.1 336.1 55.1 337.0 56.2 337.9 57.3 338.9 58.4 339.8 59.6 340.8 60.8 341.7 62.0 342.6 63.3 343.6 64.6 344.5 65.9 345.5 67.2 346.4 68.6 347.4 70.1 348.3 71.5 349.3 73.0 350.3 74.6 351.2 76.1 352.2 77.8 353.2 79.4 354.1 81.1 355.1 82.9 356.1 84.7 357.0 86.5 358.0 88.4 359.0 90.3 360.0 92.3 361.0 94.3 362.0 96.4 363.0 98.5 364.0 100.7 365.1 102.9 366.1 105.1 367.1 107.5 368.2 109.9 369.2 112.3 370.3 114.8 371.3 117.3 372.4 119.9 373.5 122.6 374.5 125.3 375.6 128.1 376.7 130.9 377.8 133.8 379.0 136.8 380.1 139.8 381.2 142.9 382.3 146.0 383.5 149.2 384.6 152.5 385.8 155.9 386.9 159.3 388.1 162.7 389.2 166.3 390.4 169.9 391.6 173.5 392.8 177.2 394.0 181.0 395.2 184.9 396.4 188.8 397.6 192.8 398.8 196.8 400.0 200.9 401.2 205.1 402.4 209.3 403.7 213.6 404.9 218.0 406.1 222.4 407.4 226.9 408.6 231.4 409.9 236.0 411.1 240.6 412.4 245.3 413.7 250.0 414.9 254.8 416.2 259.6 417.5 264.4 418.8 269.3 420.1 274.3 421.4 279.2 422.7 284.2 424.0 289.3 425.3 294.3 426.6 299.4 427.9 304.5 429.3 309.6 430.6 314.7 432.0 319.8 433.4 324.9 434.8 330.0 436.2 335.1 437.6 340.2 439.0 345.3 440.5 350.3 441.9 355.4 443.4 360.4 444.9 365.3 446.4 370.3 447.9 375.1 449.4 379.9 450.9 384.7 452.5 389.4 454.1 394.1 455.6 398.6 457.2 403.1 458.8 407.5 460.5 411.9 462.1 416.1 463.7 420.2 465.4 424.3 467.1 428.2 468.8 432.1 470.5 435.8 472.2 439.4 473.9 442.9 475.7 446.3 477.4 449.6 479.2 452.8 481.0 455.8 482.8 458.7 484.6 461.5 486.4 464.1 488.2 466.7 490.1 469.1 491.9 471.4 493.8 473.5 495.6 475.6 497.5 477.5 499.3 479.3 501.1 481.0 503.0 482.6 504.8 484.1 506.6 485.5 508.4 486.7 510.2 487.9 511.9 489.0 513.7 490.0 515.4 490.9 517.1 491.7 518.7 492.5 520.3 493.1 521.9 493.8 523.4 494.3 524.9 494.8 526.3 495.2 527.7 495.6 529.1 496.0 530.3 496.3 531.5 496.5 532.7 496.8 533.8 497.0 534.8 497.1 535.7 497.3 536.6 497.4 537.4 497.5 538.1 497.6" fill="none" stroke="#00ffff" stroke-width="2.3" stroke-dasharray="4 3.5" stroke-linejoin="round"/>
<path d="M146.0 17.1 238.0 17.6 238.1 17.6 238.2 17.6 238.4 17.7 238.5 17.7 238.6 17.7 238.8 17.7 238.9 17.7 239.0 17.8 239.2 17.8 239.4 17.8 239.5 17.8 239.7 17.8 239.9 17.9 240.0 17.9 240.2 17.9 240.4 18.0 240.6 18.0 240.8 18.0 241.0 18.0 241.2 18.1 241.4 18.1 241.6 18.1 241.9 18.2 242.1 18.2 242.3 18.2 242.5 18.3 242.8 18.3 243.0 18.3 243.3 18.4 243.5 18.4 243.8 18.5 244.0 18.5 244.3 18.6 244.6 18.6 244.8 18.6 245.1 18.7 245.4 18.7 245.7 18.8 246.0 18.9 246.3 18.9 246.6 19.0 246.9 19.0 247.2 19.1 247.5 19.1 247.8 19.2 248.2 19.3 248.5 19.3 248.8 19.4 249.2 19.5 249.5 19.5 249.8 19.6 250.2 19.7 250.5 19.8 250.9 19.9 251.3 19.9 251.6 20.0 252.0 20.1 252.4 20.2 252.8 20.3 253.1 20.4 253.5 20.5 253.9 20.6 254.3 20.7 254.7 20.8 255.1 20.9 255.5 21.0 255.9 21.1 256.4 21.3 256.8 21.4 257.2 21.5 257.6 21.7 258.1 21.8 258.5 21.9 258.9 22.1 259.4 22.2 259.8 22.4 260.3 22.5 260.7 22.7 261.2 22.9 261.7 23.0 262.1 23.2 262.6 23.4 263.1 23.6 263.6 23.8 264.1 24.0 264.6 24.2 265.0 24.4 265.5 24.6 266.0 24.8 266.5 25.0 267.1 25.3 267.6 25.5 268.1 25.8 268.6 26.0 269.1 26.3 269.7 26.5 270.2 26.8 270.7 27.1 271.3 27.4 271.8 27.7 272.4 28.0 272.9 28.3 273.5 28.7 274.0 29.0 274.6 29.3 275.2 29.7 275.7 30.1 276.3 30.4 276.9 30.8 277.5 31.2 278.1 31.6 278.6 32.1 279.2 32.5 279.8 32.9 280.4 33.4 281.0 33.9 281.6 34.4 282.2 34.9 282.9 35.4 283.5 35.9 284.1 36.4 284.7 37.0 285.4 37.6 286.0 38.2 286.6 38.8 287.3 39.4 287.9 40.0 288.6 40.7 289.2 41.4 289.9 42.1 290.5 42.8 291.2 43.5 291.8 44.3 292.5 45.1 293.2 45.9 293.9 46.7 294.6 47.5 295.2 48.4 295.9 49.3 296.6 50.2 297.3 51.1 298.0 52.1 298.7 53.1 299.4 54.1 300.2 55.1 300.9 56.2 301.6 57.3 302.3 58.4 303.0 59.6 303.8 60.8 304.5 62.0 305.2 63.3 305.9 64.6 306.7 65.9 307.4 67.2 308.1 68.6 308.9 70.1 309.6 71.5 310.3 73.0 311.1 74.6 311.8 76.1 312.5 77.8 313.3 79.4 314.0 81.1 314.7 82.9 315.5 84.7 316.2 86.5 317.0 88.4 317.7 90.3 318.5 92.3 319.2 94.3 320.0 96.4 320.7 98.5 321.5 100.7 322.2 102.9 323.0 105.1 323.8 107.5 324.5 109.9 325.3 112.3 326.1 114.8 326.8 117.3 327.6 119.9 328.4 122.6 329.2 125.3 330.0 128.1 330.8 130.9 331.7 133.8 332.5 136.8 333.3 139.8 334.1 142.9 335.0 146.0 335.8 149.2 336.7 152.5 337.5 155.9 338.4 159.3 339.3 162.7 340.1 166.3 341.0 169.9 341.9 173.5 342.8 177.2 343.7 181.0 344.6 184.9 345.5 188.8 346.4 192.8 347.3 196.8 348.2 200.9 349.1 205.1 350.1 209.3 351.0 213.6 351.9 218.0 352.8 222.4 353.8 226.9 354.7 231.4 355.7 236.0 356.6 240.6 357.6 245.3 358.6 250.0 359.5 254.8 360.5 259.6 361.5 264.4 362.5 269.3 363.5 274.3 364.5 279.2 365.5 284.2 366.5 289.3 367.5 294.3 368.5 299.4 369.5 304.5 370.5 309.6 371.5 314.7 372.5 319.8 373.6 324.9 374.6 330.0 375.6 335.1 376.7 340.2 377.7 345.3 378.8 350.3 379.9 355.4 380.9 360.4 382.0 365.3 383.1 370.3 384.2 375.1 385.3 379.9 386.4 384.7 387.5 389.4 388.6 394.1 389.7 398.6 390.9 403.1 392.0 407.5 393.2 411.9 394.3 416.1 395.5 420.2 396.7 424.3 397.9 428.2 399.1 432.1 400.3 435.8 401.5 439.4 402.8 442.9 404.0 446.3 405.3 449.6 406.5 452.8 407.8 455.8 409.1 458.7 410.4 461.5 411.6 464.1 412.9 466.7 414.2 469.1 415.5 471.4 416.8 473.5 418.1 475.6 419.4 477.5 420.6 479.3 421.9 481.0 423.2 482.6 424.4 484.1 425.7 485.5 427.0 486.7 428.2 487.9 429.5 489.0 430.7 490.0 432.0 490.9 433.2 491.7 434.5 492.5 435.7 493.1 437.0 493.8 438.2 494.3 439.4 494.8 440.7 495.2 441.9 495.6 443.1 496.0 444.3 496.3 445.5 496.5 446.7 496.8 447.9 497.0 449.2 497.1 450.4 497.3 451.6 497.4 452.8 497.5 454.0 497.6" fill="none" stroke="#ff8000" stroke-width="2.3" stroke-dasharray="4 3.5" stroke-linejoin="round"/>
<path d="M146.0 17.1 210.0 17.6 210.3 17.6 210.5 17.6 210.7 17.7 211.0 17.7 211.2 17.7 211.5 17.7 211.7 17.7 212.0 17.8 212.2 17.8 212.5 17.8 212.8 17.8 213.0 17.8 213.3 17.9 213.6 17.9 213.9 17.9 214.2 18.0 214.5 18.0 214.7 18.0 215.0 18.0 215.3 18.1 215.6 18.1 216.0 18.1 216.3 18.2 216.6 18.2 216.9 18.2 217.2 18.3 217.5 18.3 217.9 18.3 218.2 18.4 218.5 18.4 218.9 18.5 219.2 18.5 219.5 18.6 219.9 18.6 220.2 18.6 220.6 18.7 220.9 18.7 221.3 18.8 221.6 18.9 222.0 18.9 222.4 19.0 222.7 19.0 223.1 19.1 223.5 19.1 223.9 19.2 224.2 19.3 224.6 19.3 225.0 19.4 225.4 19.5 225.8 19.5 226.2 19.6 226.6 19.7 227.0 19.8 227.4 19.9 227.8 19.9 228.2 20.0 228.6 20.1 229.0 20.2 229.4 20.3 229.8 20.4 230.2 20.5 230.6 20.6 231.1 20.7 231.5 20.8 231.9 20.9 232.3 21.0 232.8 21.1 233.2 21.3 233.6 21.4 234.1 21.5 234.5 21.7 235.0 21.8 235.4 21.9 235.8 22.1 236.3 22.2 236.7 22.4 237.2 22.5 237.6 22.7 238.1 22.9 238.6 23.0 239.0 23.2 239.5 23.4 239.9 23.6 240.4 23.8 240.9 24.0 241.3 24.2 241.8 24.4 242.3 24.6 242.7 24.8 243.2 25.0 243.7 25.3 244.2 25.5 244.7 25.8 245.1 26.0 245.6 26.3 246.1 26.5 246.6 26.8 247.1 27.1 247.6 27.4 248.1 27.7 248.5 28.0 249.0 28.3 249.5 28.7 250.0 29.0 250.5 29.3 251.0 29.7 251.5 30.1 252.0 30.4 252.5 30.8 253.0 31.2 253.5 31.6 254.0 32.1 254.5 32.5 255.0 32.9 255.6 33.4 256.1 33.9 256.6 34.4 257.1 34.9 257.6 35.4 258.1 35.9 258.6 36.4 259.1 37.0 259.7 37.6 260.2 38.2 260.7 38.8 261.2 39.4 261.7 40.0 262.2 40.7 262.8 41.4 263.3 42.1 263.8 42.8 264.3 43.5 264.9 44.3 265.4 45.1 265.9 45.9 266.5 46.7 267.0 47.5 267.5 48.4 268.1 49.3 268.6 50.2 269.2 51.1 269.7 52.1 270.3 53.1 270.8 54.1 271.3 55.1 271.9 56.2 272.4 57.3 273.0 58.4 273.5 59.6 274.1 60.8 274.6 62.0 275.2 63.3 275.7 64.6 276.3 65.9 276.8 67.2 277.4 68.6 278.0 70.1 278.5 71.5 279.1 73.0 279.6 74.6 280.2 76.1 280.8 77.8 281.3 79.4 281.9 81.1 282.5 82.9 283.1 84.7 283.7 86.5 284.3 88.4 284.9 90.3 285.5 92.3 286.1 94.3 286.7 96.4 287.3 98.5 287.9 100.7 288.6 102.9 289.2 105.1 289.8 107.5 290.4 109.9 291.1 112.3 291.7 114.8 292.4 117.3 293.0 119.9 293.7 122.6 294.3 125.3 295.0 128.1 295.7 130.9 296.3 133.8 297.0 136.8 297.7 139.8 298.3 142.9 299.0 146.0 299.7 149.2 300.4 152.5 301.1 155.9 301.7 159.3 302.4 162.7 303.1 166.3 303.9 169.9 304.6 173.5 305.3 177.2 306.0 181.0 306.7 184.9 307.4 188.8 308.1 192.8 308.9 196.8 309.6 200.9 310.3 205.1 311.1 209.3 311.8 213.6 312.6 218.0 313.3 222.4 314.0 226.9 314.8 231.4 315.5 236.0 316.3 240.6 317.0 245.3 317.8 250.0 318.6 254.8 319.3 259.6 320.1 264.4 320.8 269.3 321.6 274.3 322.4 279.2 323.1 284.2 323.9 289.3 324.7 294.3 325.5 299.4 326.2 304.5 327.0 309.6 327.8 314.7 328.6 319.8 329.4 324.9 330.2 330.0 331.0 335.1 331.8 340.2 332.6 345.3 333.4 350.3 334.2 355.4 335.0 360.4 335.8 365.3 336.6 370.3 337.5 375.1 338.3 379.9 339.1 384.7 340.0 389.4 340.8 394.1 341.7 398.6 342.5 403.1 343.4 407.5 344.2 411.9 345.1 416.1 346.0 420.2 346.8 424.3 347.7 428.2 348.6 432.1 349.5 435.8 350.4 439.4 351.3 442.9 352.2 446.3 353.1 449.6 354.0 452.8 355.0 455.8 355.9 458.7 356.8 461.5 357.7 464.1 358.7 466.7 359.6 469.1 360.5 471.4 361.4 473.5 362.4 475.6 363.3 477.5 364.2 479.3 365.1 481.0 366.0 482.6 366.9 484.1 367.8 485.5 368.7 486.7 369.6 487.9 370.4 489.0 371.3 490.0 372.1 490.9 373.0 491.7 373.8 492.5 374.6 493.1 375.4 493.8 376.1 494.3 376.9 494.8 377.6 495.2 378.3 495.6 379.0 496.0 379.7 496.3 380.3 496.5 380.9 496.8 381.5 497.0 382.0 497.1 382.6 497.3 383.1 497.4 383.5 497.5 384.0 497.6" fill="none" stroke="#228b22" stroke-width="2.3" stroke-dasharray="4 3.5" stroke-linejoin="round"/>
<path d="M146.0 17.1 190.0 17.6 190.1 17.6 190.1 17.6 190.2 17.7 190.3 17.7 190.4 17.7 190.5 17.7 190.7 17.7 190.8 17.8 191.0 17.8 191.1 17.8 191.3 17.8 191.5 17.8 191.7 17.9 191.9 17.9 192.1 17.9 192.3 18.0 192.5 18.0 192.8 18.0 193.0 18.0 193.3 18.1 193.5 18.1 193.8 18.1 194.1 18.2 194.4 18.2 194.7 18.2 195.0 18.3 195.3 18.3 195.6 18.3 195.9 18.4 196.2 18.4 196.6 18.5 196.9 18.5 197.3 18.6 197.6 18.6 198.0 18.6 198.4 18.7 198.7 18.7 199.1 18.8 199.5 18.9 199.9 18.9 200.3 19.0 200.7 19.0 201.1 19.1 201.5 19.1 201.9 19.2 202.4 19.3 202.8 19.3 203.2 19.4 203.7 19.5 204.1 19.5 204.5 19.6 205.0 19.7 205.4 19.8 205.9 19.9 206.3 19.9 206.8 20.0 207.2 20.1 207.7 20.2 208.2 20.3 208.6 20.4 209.1 20.5 209.6 20.6 210.0 20.7 210.5 20.8 211.0 20.9 211.4 21.0 211.9 21.1 212.4 21.3 212.9 21.4 213.3 21.5 213.8 21.7 214.3 21.8 214.8 21.9 215.2 22.1 215.7 22.2 216.2 22.4 216.7 22.5 217.1 22.7 217.6 22.9 218.1 23.0 218.6 23.2 219.0 23.4 219.5 23.6 219.9 23.8 220.4 24.0 220.9 24.2 221.3 24.4 221.8 24.6 222.2 24.8 222.7 25.0 223.1 25.3 223.6 25.5 224.0 25.8 224.4 26.0 224.9 26.3 225.3 26.5 225.7 26.8 226.2 27.1 226.6 27.4 227.0 27.7 227.4 28.0 227.8 28.3 228.3 28.7 228.7 29.0 229.1 29.3 229.5 29.7 229.9 30.1 230.3 30.4 230.7 30.8 231.1 31.2 231.5 31.6 232.0 32.1 232.4 32.5 232.8 32.9 233.2 33.4 233.6 33.9 234.0 34.4 234.4 34.9 234.8 35.4 235.2 35.9 235.6 36.4 236.0 37.0 236.4 37.6 236.9 38.2 237.3 38.8 237.7 39.4 238.1 40.0 238.5 40.7 238.9 41.4 239.4 42.1 239.8 42.8 240.2 43.5 240.6 44.3 241.1 45.1 241.5 45.9 241.9 46.7 242.4 47.5 242.8 48.4 243.3 49.3 243.7 50.2 244.2 51.1 244.6 52.1 245.1 53.1 245.5 54.1 246.0 55.1 246.4 56.2 246.9 57.3 247.4 58.4 247.8 59.6 248.3 60.8 248.8 62.0 249.3 63.3 249.8 64.6 250.2 65.9 250.7 67.2 251.2 68.6 251.7 70.1 252.2 71.5 252.7 73.0 253.2 74.6 253.7 76.1 254.2 77.8 254.7 79.4 255.2 81.1 255.7 82.9 256.2 84.7 256.7 86.5 257.2 88.4 257.7 90.3 258.2 92.3 258.8 94.3 259.3 96.4 259.8 98.5 260.3 100.7 260.8 102.9 261.4 105.1 261.9 107.5 262.4 109.9 262.9 112.3 263.5 114.8 264.0 117.3 264.5 119.9 265.1 122.6 265.6 125.3 266.1 128.1 266.7 130.9 267.2 133.8 267.8 136.8 268.3 139.8 268.9 142.9 269.4 146.0 269.9 149.2 270.5 152.5 271.0 155.9 271.6 159.3 272.1 162.7 272.7 166.3 273.2 169.9 273.8 173.5 274.4 177.2 274.9 181.0 275.5 184.9 276.0 188.8 276.6 192.8 277.2 196.8 277.7 200.9 278.3 205.1 278.9 209.3 279.5 213.6 280.0 218.0 280.6 222.4 281.2 226.9 281.8 231.4 282.4 236.0 283.0 240.6 283.5 245.3 284.1 250.0 284.7 254.8 285.3 259.6 285.9 264.4 286.5 269.3 287.1 274.3 287.7 279.2 288.3 284.2 288.9 289.3 289.5 294.3 290.1 299.4 290.7 304.5 291.3 309.6 291.9 314.7 292.5 319.8 293.2 324.9 293.8 330.0 294.4 335.1 295.0 340.2 295.6 345.3 296.3 350.3 296.9 355.4 297.5 360.4 298.2 365.3 298.8 370.3 299.4 375.1 300.1 379.9 300.8 384.7 301.4 389.4 302.1 394.1 302.8 398.6 303.5 403.1 304.2 407.5 304.9 411.9 305.6 416.1 306.3 420.2 307.1 424.3 307.8 428.2 308.6 432.1 309.4 435.8 310.2 439.4 311.0 442.9 311.8 446.3 312.6 449.6 313.4 452.8 314.3 455.8 315.1 458.7 315.9 461.5 316.8 464.1 317.6 466.7 318.5 469.1 319.3 471.4 320.1 473.5 321.0 475.6 321.8 477.5 322.6 479.3 323.4 481.0 324.3 482.6 325.0 484.1 325.8 485.5 326.6 486.7 327.4 487.9 328.1 489.0 328.9 490.0 329.6 490.9 330.3 491.7 330.9 492.5 331.6 493.1 332.2 493.8 332.9 494.3 333.5 494.8 334.0 495.2 334.6 495.6 335.1 496.0 335.6 496.3 336.0 496.5 336.5 496.8 336.9 497.0 337.2 497.1 337.6 497.3 337.9 497.4 338.1 497.5 338.4 497.6" fill="none" stroke="#ff00ff" stroke-width="2.3" stroke-dasharray="4 3.5" stroke-linejoin="round"/>
<path d="M146.0 17.1 180.0 17.6 180.1 17.6 180.3 17.6 180.4 17.7 180.6 17.7 180.8 17.7 181.0 17.7 181.1 17.7 181.3 17.8 181.5 17.8 181.7 17.8 181.9 17.8 182.1 17.8 182.3 17.9 182.5 17.9 182.7 17.9 182.9 18.0 183.1 18.0 183.4 18.0 183.6 18.0 183.8 18.1 184.0 18.1 184.3 18.1 184.5 18.2 184.7 18.2 185.0 18.2 185.2 18.3 185.5 18.3 185.7 18.3 186.0 18.4 186.2 18.4 186.5 18.5 186.7 18.5 187.0 18.6 187.3 18.6 187.5 18.6 187.8 18.7 188.1 18.7 188.3 18.8 188.6 18.9 188.9 18.9 189.2 19.0 189.5 19.0 189.8 19.1 190.0 19.1 190.3 19.2 190.6 19.3 190.9 19.3 191.2 19.4 191.5 19.5 191.8 19.5 192.1 19.6 192.5 19.7 192.8 19.8 193.1 19.9 193.4 19.9 193.7 20.0 194.0 20.1 194.3 20.2 194.7 20.3 195.0 20.4 195.3 20.5 195.6 20.6 196.0 20.7 196.3 20.8 196.6 20.9 197.0 21.0 197.3 21.1 197.6 21.3 198.0 21.4 198.3 21.5 198.7 21.7 199.0 21.8 199.4 21.9 199.7 22.1 200.1 22.2 200.4 22.4 200.8 22.5 201.1 22.7 201.5 22.9 201.8 23.0 202.2 23.2 202.5 23.4 202.9 23.6 203.2 23.8 203.6 24.0 204.0 24.2 204.3 24.4 204.7 24.6 205.1 24.8 205.4 25.0 205.8 25.3 206.2 25.5 206.5 25.8 206.9 26.0 207.3 26.3 207.6 26.5 208.0 26.8 208.4 27.1 208.7 27.4 209.1 27.7 209.5 28.0 209.9 28.3 210.2 28.7 210.6 29.0 211.0 29.3 211.4 29.7 211.7 30.1 212.1 30.4 212.5 30.8 212.9 31.2 213.2 31.6 213.6 32.1 214.0 32.5 214.4 32.9 214.7 33.4 215.1 33.9 215.5 34.4 215.9 34.9 216.3 35.4 216.6 35.9 217.0 36.4 217.4 37.0 217.8 37.6 218.1 38.2 218.5 38.8 218.9 39.4 219.3 40.0 219.6 40.7 220.0 41.4 220.4 42.1 220.8 42.8 221.1 43.5 221.5 44.3 221.9 45.1 222.3 45.9 222.6 46.7 223.0 47.5 223.4 48.4 223.8 49.3 224.2 50.2 224.5 51.1 224.9 52.1 225.3 53.1 225.7 54.1 226.1 55.1 226.5 56.2 226.9 57.3 227.2 58.4 227.6 59.6 228.0 60.8 228.4 62.0 228.8 63.3 229.2 64.6 229.6 65.9 230.0 67.2 230.4 68.6 230.8 70.1 231.2 71.5 231.6 73.0 232.0 74.6 232.4 76.1 232.8 77.8 233.2 79.4 233.6 81.1 234.0 82.9 234.4 84.7 234.8 86.5 235.2 88.4 235.6 90.3 236.0 92.3 236.4 94.3 236.9 96.4 237.3 98.5 237.7 100.7 238.1 102.9 238.5 105.1 238.9 107.5 239.4 109.9 239.8 112.3 240.2 114.8 240.6 117.3 241.1 119.9 241.5 122.6 241.9 125.3 242.4 128.1 242.8 130.9 243.2 133.8 243.7 136.8 244.1 139.8 244.5 142.9 245.0 146.0 245.4 149.2 245.9 152.5 246.3 155.9 246.8 159.3 247.2 162.7 247.7 166.3 248.1 169.9 248.6 173.5 249.1 177.2 249.5 181.0 250.0 184.9 250.5 188.8 250.9 192.8 251.4 196.8 251.9 200.9 252.4 205.1 252.8 209.3 253.3 213.6 253.8 218.0 254.3 222.4 254.8 226.9 255.3 231.4 255.8 236.0 256.3 240.6 256.8 245.3 257.3 250.0 257.8 254.8 258.3 259.6 258.8 264.4 259.4 269.3 259.9 274.3 260.4 279.2 260.9 284.2 261.5 289.3 262.0 294.3 262.5 299.4 263.0 304.5 263.6 309.6 264.1 314.7 264.6 319.8 265.2 324.9 265.7 330.0 266.3 335.1 266.8 340.2 267.3 345.3 267.9 350.3 268.4 355.4 269.0 360.4 269.5 365.3 270.1 370.3 270.6 375.1 271.2 379.9 271.7 384.7 272.3 389.4 272.8 394.1 273.4 398.6 273.9 403.1 274.5 407.5 275.0 411.9 275.6 416.1 276.2 420.2 276.7 424.3 277.3 428.2 277.9 432.1 278.4 435.8 279.0 439.4 279.6 442.9 280.2 446.3 280.7 449.6 281.3 452.8 281.9 455.8 282.5 458.7 283.1 461.5 283.6 464.1 284.2 466.7 284.8 469.1 285.4 471.4 286.0 473.5 286.6 475.6 287.1 477.5 287.7 479.3 288.3 481.0 288.9 482.6 289.5 484.1 290.1 485.5 290.6 486.7 291.2 487.9 291.8 489.0 292.4 490.0 293.0 490.9 293.5 491.7 294.1 492.5 294.7 493.1 295.3 493.8 295.8 494.3 296.4 494.8 297.0 495.2 297.6 495.6 298.1 496.0 298.7 496.3 299.2 496.5 299.8 496.8 300.4 497.0 300.9 497.1 301.5 497.3 302.0 497.4 302.6 497.5 303.1 497.6" fill="none" stroke="#000080" stroke-width="2.3" stroke-dasharray="4 3.5" stroke-linejoin="round"/>
<path d="M146.0 17.1 172.2 17.6 172.4 17.6 172.6 17.6 172.8 17.7 173.0 17.7 173.2 17.7 173.4 17.7 173.7 17.7 173.9 17.8 174.1 17.8 174.3 17.8 174.5 17.8 174.7 17.8 174.9 17.9 175.2 17.9 175.4 17.9 175.6 18.0 175.8 18.0 176.0 18.0 176.2 18.0 176.4 18.1 176.6 18.1 176.9 18.1 177.1 18.2 177.3 18.2 177.5 18.2 177.7 18.3 177.9 18.3 178.1 18.3 178.4 18.4 178.6 18.4 178.8 18.5 179.0 18.5 179.2 18.6 179.4 18.6 179.7 18.6 179.9 18.7 180.1 18.7 180.3 18.8 180.5 18.9 180.7 18.9 181.0 19.0 181.2 19.0 181.4 19.1 181.6 19.1 181.8 19.2 182.0 19.3 182.3 19.3 182.5 19.4 182.7 19.5 182.9 19.5 183.2 19.6 183.4 19.7 183.6 19.8 183.8 19.9 184.0 19.9 184.3 20.0 184.5 20.1 184.7 20.2 184.9 20.3 185.2 20.4 185.4 20.5 185.6 20.6 185.9 20.7 186.1 20.8 186.3 20.9 186.5 21.0 186.8 21.1 187.0 21.3 187.2 21.4 187.5 21.5 187.7 21.7 187.9 21.8 188.2 21.9 188.4 22.1 188.6 22.2 188.9 22.4 189.1 22.5 189.4 22.7 189.6 22.9 189.8 23.0 190.1 23.2 190.3 23.4 190.6 23.6 190.8 23.8 191.1 24.0 191.3 24.2 191.6 24.4 191.8 24.6 192.1 24.8 192.3 25.0 192.6 25.3 192.8 25.5 193.1 25.8 193.3 26.0 193.6 26.3 193.8 26.5 194.1 26.8 194.3 27.1 194.6 27.4 194.9 27.7 195.1 28.0 195.4 28.3 195.7 28.7 195.9 29.0 196.2 29.3 196.5 29.7 196.7 30.1 197.0 30.4 197.3 30.8 197.6 31.2 197.8 31.6 198.1 32.1 198.4 32.5 198.7 32.9 198.9 33.4 199.2 33.9 199.5 34.4 199.8 34.9 200.1 35.4 200.4 35.9 200.6 36.4 200.9 37.0 201.2 37.6 201.5 38.2 201.8 38.8 202.1 39.4 202.4 40.0 202.7 40.7 203.0 41.4 203.3 42.1 203.6 42.8 203.9 43.5 204.2 44.3 204.5 45.1 204.8 45.9 205.1 46.7 205.4 47.5 205.8 48.4 206.1 49.3 206.4 50.2 206.7 51.1 207.0 52.1 207.3 53.1 207.6 54.1 208.0 55.1 208.3 56.2 208.6 57.3 208.9 58.4 209.3 59.6 209.6 60.8 209.9 62.0 210.2 63.3 210.6 64.6 210.9 65.9 211.2 67.2 211.6 68.6 211.9 70.1 212.3 71.5 212.6 73.0 212.9 74.6 213.3 76.1 213.6 77.8 214.0 79.4 214.3 81.1 214.7 82.9 215.0 84.7 215.4 86.5 215.7 88.4 216.1 90.3 216.4 92.3 216.8 94.3 217.1 96.4 217.5 98.5 217.9 100.7 218.2 102.9 218.6 105.1 219.0 107.5 219.3 109.9 219.7 112.3 220.1 114.8 220.4 117.3 220.8 119.9 221.2 122.6 221.6 125.3 221.9 128.1 222.3 130.9 222.7 133.8 223.1 136.8 223.5 139.8 223.8 142.9 224.2 146.0 224.6 149.2 225.0 152.5 225.4 155.9 225.8 159.3 226.2 162.7 226.6 166.3 227.0 169.9 227.4 173.5 227.8 177.2 228.2 181.0 228.6 184.9 229.0 188.8 229.4 192.8 229.8 196.8 230.2 200.9 230.6 205.1 231.0 209.3 231.4 213.6 231.8 218.0 232.2 222.4 232.7 226.9 233.1 231.4 233.5 236.0 233.9 240.6 234.3 245.3 234.8 250.0 235.2 254.8 235.6 259.6 236.0 264.4 236.5 269.3 236.9 274.3 237.3 279.2 237.8 284.2 238.2 289.3 238.6 294.3 239.1 299.4 239.5 304.5 239.9 309.6 240.4 314.7 240.8 319.8 241.3 324.9 241.7 330.0 242.2 335.1 242.6 340.2 243.1 345.3 243.5 350.3 244.0 355.4 244.4 360.4 244.9 365.3 245.3 370.3 245.8 375.1 246.2 379.9 246.7 384.7 247.1 389.4 247.6 394.1 248.1 398.6 248.5 403.1 249.0 407.5 249.5 411.9 249.9 416.1 250.4 420.2 250.9 424.3 251.3 428.2 251.8 432.1 252.3 435.8 252.7 439.4 253.2 442.9 253.7 446.3 254.1 449.6 254.6 452.8 255.1 455.8 255.6 458.7 256.0 461.5 256.5 464.1 257.0 466.7 257.5 469.1 258.0 471.4 258.4 473.5 258.9 475.6 259.4 477.5 259.9 479.3 260.4 481.0 260.9 482.6 261.3 484.1 261.8 485.5 262.3 486.7 262.8 487.9 263.3 489.0 263.8 490.0 264.3 490.9 264.8 491.7 265.2 492.5 265.7 493.1 266.2 493.8 266.7 494.3 267.2 494.8 267.7 495.2 268.2 495.6 268.7 496.0 269.2 496.3 269.7 496.5 270.2 496.8 270.6 497.0 271.1 497.1 271.6 497.3 272.1 497.4 272.6 497.5 273.1 497.6" fill="none" stroke="#00ff00" stroke-width="2.3" stroke-dasharray="4 3.5" stroke-linejoin="round"/>
<path d="M269.80 497.80 H273.10 M278.30 497.80 H282.10 M286.70 497.80 H290.80 M296.10 497.80 H299.50" fill="none" stroke="#00ff00" stroke-width="2.3"/>
<path d="M318.20 497.80 H353.70 M355.00 497.80 H356.40" fill="none" stroke="#000080" stroke-width="2.3"/>
<path d="M336.00 497.80 H339.50 M344.00 497.80 H347.00 M362.40 497.80 H366.40 M371.00 497.80 H375.00 M380.40 497.80 H384.00" fill="none" stroke="#ff00ff" stroke-width="2.3"/>
<path d="M408.50 497.80 H411.20 M417.20 497.80 H420.60 M426.00 497.80 H430.00 M435.30 497.80 H438.70 M444.00 497.80 H447.40 M452.00 497.80 H455.00 M472.50 497.80 H473.80 M475.10 497.80 H476.50 M477.10 497.80 H478.50" fill="none" stroke="#228b22" stroke-width="2.3"/>
<path d="M482.50 497.80 H485.80 M491.20 497.80 H495.20 M500.60 497.80 H504.60 M510.00 497.80 H513.30 M518.60 497.80 H522.60 M528.00 497.80 H532.00 M537.40 497.80 H541.00 M567.80 497.80 H569.10 M570.50 497.80 H571.80 M578.50 497.80 H579.80 M585.20 497.80 H586.50" fill="none" stroke="#ff8000" stroke-width="2.3"/>
<path d="M572.50 497.80 H574.50 M589.90 497.80 H593.20 M598.60 497.80 H602.00 M607.30 497.80 H611.30 M616.70 497.80 H620.00 M626.30 497.80 H629.00 M635.40 497.80 H638.40 M643.70 497.80 H648.00 M687.20 497.80 H691.30 M694.60 497.80 H698.00 M699.30 497.80 H701.30 M703.30 497.80 H704.70 M706.00 497.80 H708.70" fill="none" stroke="#00ffff" stroke-width="2.3"/>
<path d="M122.00 17.10 H124.20 M128.00 17.10 H130.20" fill="none" stroke="#ff0000" stroke-width="2.3"/>
<path d="M135.50 17.10 H138.60 M141.40 17.10 H143.00" fill="none" stroke="#00ff00" stroke-width="2.3"/>
</g>
<g id="legend" opacity="0.999">
<rect x="596.7" y="23.6" width="115.3" height="213.9" fill="#fff" stroke="#000" stroke-width="2"/>
<line x1="596.7" y1="48.4" x2="712" y2="48.4" stroke="#000" stroke-width="2"/>
<text transform="translate(654.50 44.20) scale(1.00 1.02)" text-anchor="middle">L</text>
<text transform="translate(656.50 69.80) scale(1.00 1.02)" text-anchor="end">16</text>
<line x1="671" y1="61.70" x2="697" y2="61.70" stroke="#00ffff" stroke-width="2.4"/>
<text transform="translate(656.50 96.90) scale(1.00 1.02)" text-anchor="end">32</text>
<line x1="671" y1="88.80" x2="697" y2="88.80" stroke="#ff8000" stroke-width="2.4"/>
<text transform="translate(656.50 124.00) scale(1.00 1.02)" text-anchor="end">64</text>
<line x1="671" y1="115.90" x2="697" y2="115.90" stroke="#228b22" stroke-width="2.4"/>
<text transform="translate(656.50 151.10) scale(1.00 1.02)" text-anchor="end">128</text>
<line x1="671" y1="143.00" x2="697" y2="143.00" stroke="#ff00ff" stroke-width="2.4"/>
<text transform="translate(656.50 178.20) scale(1.00 1.02)" text-anchor="end">256</text>
<line x1="671" y1="170.10" x2="697" y2="170.10" stroke="#000080" stroke-width="2.4"/>
<text transform="translate(656.50 205.30) scale(1.00 1.02)" text-anchor="end">512</text>
<line x1="671" y1="197.20" x2="697" y2="197.20" stroke="#00ff00" stroke-width="2.4"/>
<text transform="translate(656.50 232.40) scale(1.00 1.02)" text-anchor="end">1024</text>
<line x1="671" y1="224.30" x2="697" y2="224.30" stroke="#ff0000" stroke-width="2.4"/>
</g>
</svg>
</body></html>
